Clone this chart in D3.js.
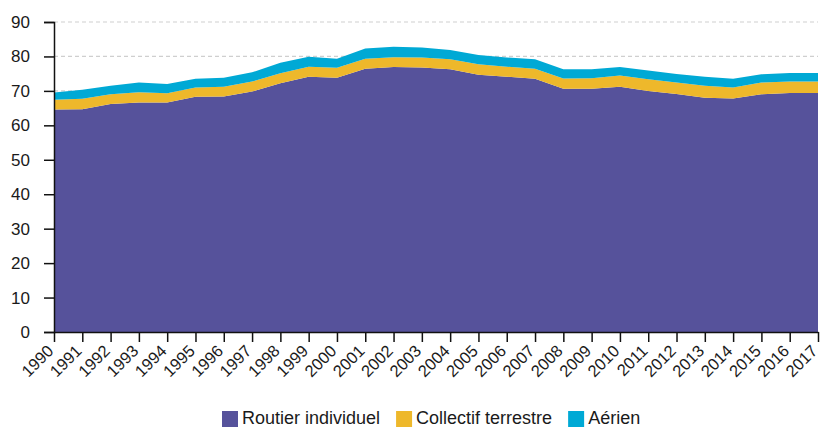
<!DOCTYPE html>
<html>
<head>
<meta charset="utf-8">
<script src="https://cdn.jsdelivr.net/npm/d3@7"></script>
<style>
  body { margin: 0; background: #fff; }
  svg { display: block; font-family: "Liberation Sans", Arial, sans-serif; }
</style>
</head>
<body>
<div id="chart"></div>
<script>
const years = d3.range(1990, 2018);
const routier = [64.6, 64.7, 66.2, 66.6, 66.6, 68.3, 68.4, 69.8, 72.2, 74.1,
  73.8, 76.4, 76.9, 76.8, 76.3, 74.7, 74.1, 73.5, 70.6, 70.6,
  71.2, 70.0, 69.1, 68.0, 67.8, 69.0, 69.4, 69.4];
const collectif = [2.8, 3.0, 2.8, 3.0, 2.7, 2.7, 2.8, 2.9, 2.9, 2.9,
  2.9, 2.9, 2.9, 2.9, 2.9, 3.0, 2.9, 2.9, 3.0, 3.1,
  3.3, 3.4, 3.3, 3.5, 3.2, 3.4, 3.3, 3.3];
const aerien = [2.1, 2.6, 2.5, 2.8, 2.7, 2.5, 2.6, 2.7, 3.1, 2.9,
  2.6, 3.0, 3.0, 2.9, 2.7, 2.7, 2.7, 2.8, 2.7, 2.6,
  2.4, 2.5, 2.5, 2.6, 2.5, 2.4, 2.5, 2.5];
const seriesNames = ["Routier individuel", "Collectif terrestre", "Aérien"];
const colors = ["#56529b", "#eeb82b", "#00a9d5"];
const yTicks = [0, 10, 20, 30, 40, 50, 60, 70, 80, 90];

const width = 822, height = 428;
const margin = { left: 54, right: 4, top: 22, bottom: 96 };

const rows = years.map((y, i) => ({
  year: y, r: routier[i], c: collectif[i], a: aerien[i]
}));

const svg = d3.select("#chart").append("svg")
  .attr("width", width).attr("height", height);

const x = d3.scaleLinear().domain([1990, 2017])
  .range([margin.left, width - margin.right]);
const y = d3.scaleLinear().domain([0, 90])
  .range([height - margin.bottom, margin.top]);

// grid
svg.append("g").selectAll("line").data(yTicks.filter(d => d > 0)).join("line")
  .attr("x1", margin.left).attr("x2", width - margin.right)
  .attr("y1", d => y(d)).attr("y2", d => y(d))
  .attr("stroke", "#cfcfcf").attr("stroke-width", 1.2)
  .attr("stroke-dasharray", "4,3");

const stack = d3.stack().keys(["r", "c", "a"]);
const layers = stack(rows);
const area = d3.area()
  .x(d => x(d.data.year))
  .y0(d => y(d[0]))
  .y1(d => y(d[1]));

svg.append("g").selectAll("path").data(layers).join("path")
  .attr("d", area)
  .attr("fill", (d, i) => colors[i]);

// y axis
const yAxis = svg.append("g")
  .attr("transform", `translate(${margin.left},0)`)
  .call(d3.axisLeft(y).tickValues(yTicks).tickSize(10).tickPadding(14));
yAxis.selectAll("text").attr("font-size", 17).attr("fill", "#1a1a1a")
  .attr("font-family", "Liberation Sans, Arial, sans-serif");
yAxis.select(".domain").attr("stroke", "#111").attr("stroke-width", 1.5);
yAxis.selectAll(".tick line").attr("stroke", "#111").attr("stroke-width", 1.5);

// x axis
const xAxis = svg.append("g")
  .attr("transform", `translate(0,${y(0)})`)
  .call(d3.axisBottom(x).tickValues(years).tickFormat(d3.format("d"))
    .tickSize(10).tickSizeOuter(0));
xAxis.select(".domain").attr("stroke", "#111").attr("stroke-width", 1.5);
xAxis.selectAll(".tick line").attr("stroke", "#111").attr("stroke-width", 1.5);
xAxis.selectAll("text")
  .attr("font-size", 16.5).attr("fill", "#1a1a1a")
  .attr("font-family", "Liberation Sans, Arial, sans-serif")
  .attr("text-anchor", "end")
  .attr("dy", null)
  .attr("transform", "translate(0,20) rotate(-45)")
  .attr("y", 0).attr("x", 0);

// legend
const legend = svg.append("g").attr("transform", "translate(222,410)");
let lx = 0;
seriesNames.forEach((name, i) => {
  const g = legend.append("g").attr("transform", `translate(${lx},0)`);
  g.append("rect").attr("y", 1).attr("width", 16).attr("height", 16).attr("fill", colors[i]);
  const t = g.append("text").attr("x", 20).attr("y", 14)
    .attr("font-size", 18).attr("fill", "#1a1a1a").text(name);
  lx += 20 + t.node().getComputedTextLength() + 16;
});
</script>
</body>
</html>
